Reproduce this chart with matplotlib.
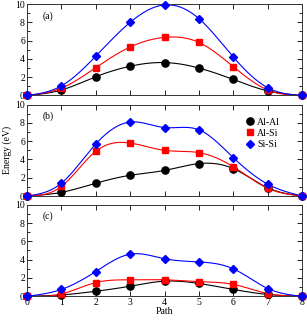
import numpy as np
import matplotlib
matplotlib.use('Agg')
import matplotlib.pyplot as plt
from matplotlib.ticker import MultipleLocator

plt.rcParams['font.family'] = ['Liberation Serif', 'DejaVu Serif']
plt.rcParams['font.size'] = 7

path = [0, 1, 2, 3, 4, 5, 6, 7, 8]

# panel (a)
a_alal = [0, 0.6, 2.05, 3.2, 3.6, 3.0, 1.75, 0.5, 0]
a_alsi = [0, 0.8, 3.05, 5.3, 6.35, 5.8, 3.15, 0.6, 0]
a_sisi = [0, 1.05, 4.3, 8.0, 9.9, 8.4, 4.2, 0.85, 0]

# panel (b)
b_alal = [0, 0.4, 1.4, 2.27, 2.8, 3.55, 3.0, 0.9, 0]
b_alsi = [0, 1.05, 4.9, 5.8, 5.0, 4.75, 3.2, 0.85, 0]
b_sisi = [0, 1.4, 5.7, 8.1, 7.5, 7.25, 4.2, 1.3, 0]

# panel (c)
c_alal = [0, 0.15, 0.55, 1.1, 1.65, 1.4, 0.75, 0.2, 0]
c_alsi = [0, 0.25, 1.5, 1.8, 1.8, 1.6, 1.3, 0.3, 0]
c_sisi = [0, 0.75, 2.7, 4.6, 4.1, 3.75, 3.0, 0.85, 0]

series_names = ['Al-Al', 'Al-Si', 'Si-Si']
panel_labels = ['(a)', '(b)', '(c)']


def natural_spline(x, y, n=200):
    """Natural cubic spline used only to draw the smooth connecting line"""
    x = np.asarray(x, float)
    y = np.asarray(y, float)
    m = len(x)
    h = np.diff(x)
    A = np.zeros((m, m))
    r = np.zeros(m)
    A[0, 0] = A[-1, -1] = 1
    for i in range(1, m - 1):
        A[i, i - 1] = h[i - 1]
        A[i, i] = 2 * (h[i - 1] + h[i])
        A[i, i + 1] = h[i]
        r[i] = 6 * ((y[i + 1] - y[i]) / h[i] - (y[i] - y[i - 1]) / h[i - 1])
    M = np.linalg.solve(A, r)
    xs = np.linspace(x[0], x[-1], n)
    ys = np.empty_like(xs)
    for k, xv in enumerate(xs):
        i = min(np.searchsorted(x, xv, side='right') - 1, m - 2)
        t1 = x[i + 1] - xv
        t0 = xv - x[i]
        ys[k] = (M[i] * t1 ** 3 + M[i + 1] * t0 ** 3) / (6 * h[i]) \
            + (y[i] / h[i] - M[i] * h[i] / 6) * t1 \
            + (y[i + 1] / h[i] - M[i + 1] * h[i] / 6) * t0
    return xs, ys


fig = plt.figure(figsize=(3.07, 3.2), dpi=100)
left, width = 0.088, 0.896
rects = [(0.7016, 0.2859), (0.3875, 0.2853), (0.0741, 0.2862)]
panels = [
    (a_alal, a_alsi, a_sisi),
    (b_alal, b_alsi, b_sisi),
    (c_alal, c_alsi, c_sisi),
]
styles = [
    dict(color='black', marker='o', ms=5.2),
    dict(color='red', marker='s', ms=4.6),
    dict(color='blue', marker='D', ms=4.2),
]

axes = []
for idx, ((bottom, height), data) in enumerate(zip(rects, panels)):
    ax = fig.add_axes([left, bottom, width, height])
    for vals, st, name in zip(data, styles, series_names):
        xs, ys = natural_spline(path, vals)
        ax.plot(xs, ys, color=st['color'], lw=0.8, zorder=2)
        ax.plot(path, vals, linestyle='none', marker=st['marker'], ms=st['ms'],
                color=st['color'], label=name, zorder=3, clip_on=False)
    ax.set_xlim(0, 8)
    ax.set_ylim(0, 10)
    ax.xaxis.set_major_locator(MultipleLocator(1))
    ax.yaxis.set_major_locator(MultipleLocator(2))
    ax.yaxis.set_minor_locator(MultipleLocator(1))
    ax.tick_params(which='both', direction='in', top=True, right=True,
                   width=0.6, pad=1.5, labelsize=7)
    ax.tick_params(which='major', length=3.5)
    ax.tick_params(which='minor', length=2)
    for s in ax.spines.values():
        s.set_linewidth(0.7)
        s.set_color('#333333')
    ax.text(0.055, 0.87, panel_labels[idx], transform=ax.transAxes,
            fontsize=7, ha='left', va='center')
    if idx < 2:
        ax.tick_params(labelbottom=False)
    axes.append(ax)

axes[2].set_xlabel('Path', fontsize=7, labelpad=0)
axes[1].set_ylabel('Energy (eV)', fontsize=7, labelpad=2)
axes[1].legend(loc='upper left', frameon=False, fontsize=7,
               handletextpad=0.1, labelspacing=0.22, handlelength=1.2,
               bbox_to_anchor=(0.777, 0.9), borderaxespad=0.0)

fig.savefig('out.png', dpi=100)
